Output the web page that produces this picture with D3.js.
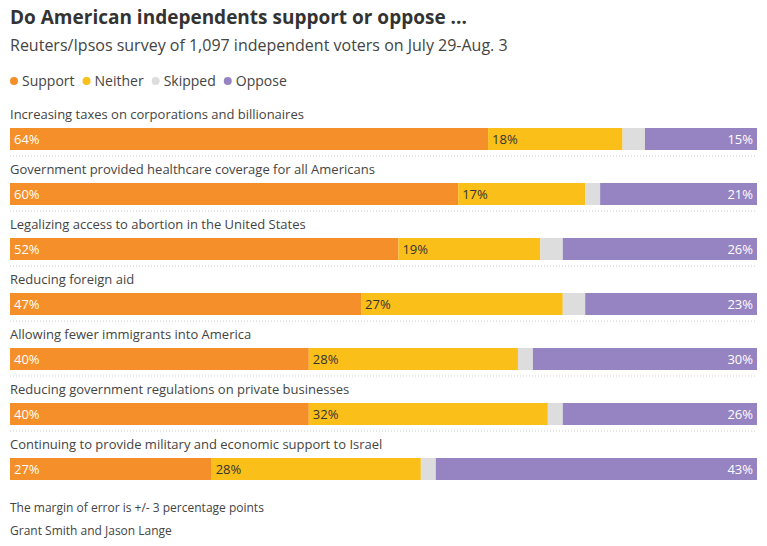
<!DOCTYPE html>
<html>
<head>
<meta charset="utf-8">
<style>
body{margin:0;background:#fff;font-family:"Open Sans",Lato,sans-serif;color:#333}
</style>
</head>
<body>
<script src="https://d3js.org/d3.v7.min.js"></script>
<script>
var questions = [
  "Increasing taxes on corporations and billionaires",
  "Government provided healthcare coverage for all Americans",
  "Legalizing access to abortion in the United States",
  "Reducing foreign aid",
  "Allowing fewer immigrants into America",
  "Reducing government regulations on private businesses",
  "Continuing to provide military and economic support to Israel"
]
var support = [64, 60, 52, 47, 40, 40, 27]
var neither = [18, 17, 19, 27, 28, 32, 28]
var oppose  = [15, 21, 26, 23, 30, 26, 43]
var keys = ["Support", "Neither", "Skipped", "Oppose"]
var colors = ["#f58f29", "#fbbf1a", "#dddddd", "#9683c1"]

var W = 767, H = 546
var svg = d3.select("body").append("svg").attr("width", W).attr("height", H)

svg.append("text").attr("x", 10).attr("y", 24).attr("font-size", 19).attr("font-weight", 700)
  .attr("fill", "#333").text("Do American independents support or oppose ...")
svg.append("text").attr("x", 10).attr("y", 51).attr("font-size", 16).attr("fill", "#444")
  .text("Reuters/Ipsos survey of 1,097 independent voters on July 29-Aug. 3")

// legend
var lx = 10
keys.forEach(function(k, i){
  svg.append("circle").attr("cx", lx + 4).attr("cy", 81).attr("r", 4).attr("fill", colors[i])
  var t = svg.append("text").attr("x", lx + 12).attr("y", 86).attr("font-size", 14).attr("fill", "#444").text(k)
  lx += 12 + t.node().getComputedTextLength() + 8
})

var x = d3.scaleLinear().domain([0, 100]).range([10, 757])
var y = d3.scaleBand().domain(d3.range(questions.length)).range([128, 128 + 55 * 7]).paddingInner(0)

questions.forEach(function(q, i){
  var skipped = 100 - support[i] - neither[i] - oppose[i]
  var vals = [support[i], neither[i], skipped, oppose[i]]
  var y0 = y(i)
  svg.append("text").attr("x", 10).attr("y", y0 - 9).attr("font-size", 13).attr("fill", "#444").text(q)
  var acc = 0
  vals.forEach(function(v, j){
    svg.append("rect").attr("x", x(acc)).attr("y", y0).attr("width", x(acc + v) - x(acc)).attr("height", 22)
      .attr("fill", colors[j])
    if (j === 0) svg.append("text").attr("x", x(acc) + 4).attr("y", y0 + 16).attr("font-size", 13).attr("fill", "#fff").text(v + "%")
    if (j === 1) svg.append("text").attr("x", x(acc) + 4).attr("y", y0 + 16).attr("font-size", 13).attr("fill", "#333").text(v + "%")
    if (j === 3) svg.append("text").attr("x", x(acc + v) - 4).attr("y", y0 + 16).attr("text-anchor", "end").attr("font-size", 13).attr("fill", "#fff").text(v + "%")
    acc += v
  })
  if (i < questions.length - 1)
    svg.append("line").attr("x1", 10).attr("x2", 757).attr("y1", y0 + 28).attr("y2", y0 + 28)
      .attr("stroke", "#ccc").attr("stroke-dasharray", "1,2")
})

svg.append("text").attr("x", 10).attr("y", 512).attr("font-size", 12).attr("fill", "#444")
  .text("The margin of error is +/- 3 percentage points")
svg.append("text").attr("x", 10).attr("y", 535).attr("font-size", 12).attr("fill", "#444")
  .text("Grant Smith and Jason Lange")
</script>
</body>
</html>
